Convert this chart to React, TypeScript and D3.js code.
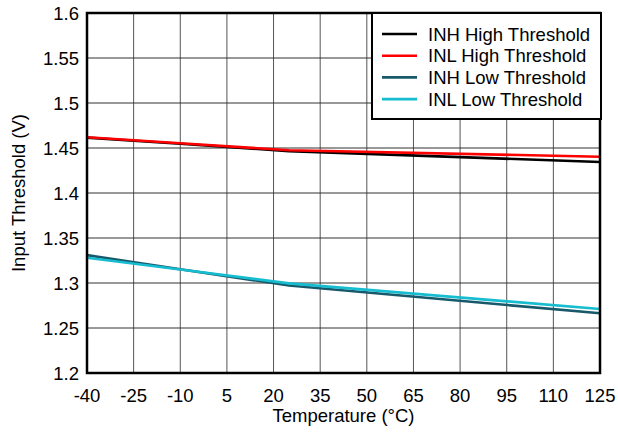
import React from "react";
import * as d3 from "d3";

const temps = [-40, -10, 25, 125];
const inhHigh = [1.4615, 1.4548, 1.4465, 1.4344];
const inlHigh = [1.462, 1.4553, 1.4475, 1.4403];
const inhLow = [1.331, 1.3153, 1.2972, 1.2663];
const inlLow = [1.3281, 1.315, 1.2996, 1.2711];

const xTicks = [-40, -25, -10, 5, 20, 35, 50, 65, 80, 95, 110, 125];
const yTicks = [1.2, 1.25, 1.3, 1.35, 1.4, 1.45, 1.5, 1.55, 1.6];

const seriesNames = ["INH High Threshold", "INL High Threshold", "INH Low Threshold", "INL Low Threshold"];
const seriesColors = ["#000000", "#ff0000", "#17596b", "#16bccf"];
const seriesValues = [inhHigh, inlHigh, inhLow, inlLow];

const W = 618, H = 432;
const L = 87, R = 600, T = 13, B = 373;
const FONT = "Arial, 'Liberation Sans', sans-serif";
const FS = 18.5;

export default function App() {
  const x = d3.scaleLinear().domain([-40, 125]).range([L, R]);
  const y = d3.scaleLinear().domain([1.2, 1.6]).range([B, T]);
  const line = d3.line<[number, number]>().x(d => x(d[0])).y(d => y(d[1]));

  return (
    <svg width={W} height={H} style={{ position: "absolute", left: 0, top: 0 }} fontFamily={FONT}>
      <rect width={W} height={H} fill="#fff" />
      {xTicks.map(t => (
        <line key={"vx" + t} x1={x(t)} x2={x(t)} y1={T} y2={B} stroke="#555" strokeWidth={1} />
      ))}
      {yTicks.map(t => (
        <line key={"hy" + t} x1={L} x2={R} y1={y(t)} y2={y(t)} stroke="#333" strokeWidth={1} />
      ))}
      {seriesValues.map((vals, i) => (
        <path key={i} d={line(temps.map((t, j) => [t, vals[j]]) as [number, number][]) || ""}
          fill="none" stroke={seriesColors[i]} strokeWidth={2.6} />
      ))}
      <rect x={L} y={T} width={R - L} height={B - T} fill="none" stroke="#000" strokeWidth={2.5} />
      {yTicks.map(t => (
        <text key={"ty" + t} x={79} y={y(t)} dy="0.36em" textAnchor="end" fontSize={FS} fill="#000">
          {d3.format("")(+t.toFixed(2))}
        </text>
      ))}
      {xTicks.map(t => (
        <text key={"tx" + t} x={x(t)} y={402} textAnchor="middle" fontSize={FS} fill="#000">{t}</text>
      ))}
      <text x={(L + R) / 2} y={422} textAnchor="middle" fontSize={FS} fill="#000">Temperature (°C)</text>
      <text transform={`translate(25,${(T + B) / 2}) rotate(-90)`} textAnchor="middle" fontSize={FS} fill="#000">Input Threshold (V)</text>
      <g>
        <rect x={372} y={13} width={229} height={106} fill="#fff" stroke="#000" strokeWidth={2} />
        {seriesNames.map((n, i) => {
          const yy = 34 + i * 21.7;
          return (
            <g key={n}>
              <line x1={382} x2={417} y1={yy} y2={yy} stroke={seriesColors[i]} strokeWidth={2.6} />
              <text x={428} y={yy} dy="0.36em" fontSize={FS} fill="#000">{n}</text>
            </g>
          );
        })}
      </g>
    </svg>
  );
}
